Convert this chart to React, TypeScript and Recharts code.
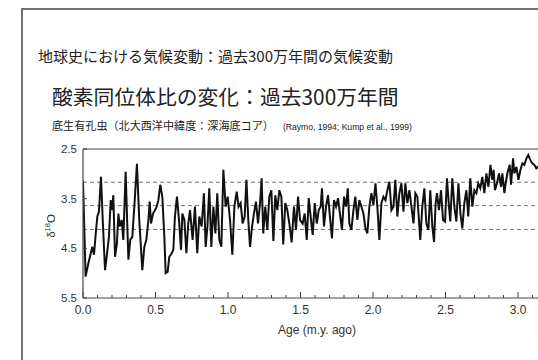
import React from 'react';
import { LineChart, Line, XAxis, YAxis, ReferenceLine } from 'recharts';

// age in million years ago
const ages = [
  0, 0.018, 0.037, 0.048, 0.064, 0.076, 0.087, 0.099, 0.11, 0.124,
  0.138, 0.152, 0.166, 0.179, 0.191, 0.202, 0.209, 0.221, 0.234, 0.244,
  0.253, 0.267, 0.278, 0.294, 0.313, 0.326, 0.34, 0.354, 0.372, 0.388,
  0.409, 0.423, 0.437, 0.451, 0.46, 0.469, 0.483, 0.497, 0.508, 0.52,
  0.533, 0.547, 0.561, 0.57, 0.584, 0.595, 0.612, 0.623, 0.634, 0.648,
  0.662, 0.676, 0.685, 0.699, 0.713, 0.726,
  0.738, 0.756, 0.772, 0.788, 0.802, 0.818, 0.834, 0.846, 0.858, 0.871,
  0.885, 0.899, 0.913, 0.926, 0.94, 0.954, 0.968, 0.984, 0.998, 1.014,
  1.03, 1.044, 1.06, 1.073, 1.087, 1.101, 1.115, 1.127, 1.14, 1.152,
  1.166, 1.179, 1.193, 1.207, 1.221, 1.232, 1.243, 1.257, 1.271, 1.285,
  1.299, 1.313, 1.326, 1.34, 1.354, 1.368, 1.381, 1.395, 1.409, 1.423,
  1.439, 1.455, 1.469, 1.483, 1.497,
  1.515, 1.529, 1.543, 1.557, 1.57, 1.584, 1.598, 1.612, 1.626, 1.639,
  1.648, 1.662, 1.676, 1.69, 1.703, 1.717, 1.731, 1.745, 1.759, 1.772,
  1.786, 1.8, 1.814, 1.826, 1.837, 1.851, 1.865, 1.878, 1.892, 1.906,
  1.92, 1.934, 1.948, 1.961, 1.975, 1.989, 2.003, 2.017, 2.03, 2.044,
  2.058, 2.072, 2.086, 2.099, 2.113, 2.127, 2.141, 2.154, 2.168, 2.182,
  2.196, 2.21, 2.223, 2.237, 2.251, 2.265, 2.279, 2.292, 2.306,
  2.326, 2.34, 2.354, 2.368, 2.382, 2.395, 2.409, 2.421, 2.432, 2.441,
  2.455, 2.469, 2.483, 2.497, 2.51, 2.524, 2.533, 2.547, 2.561, 2.575,
  2.589, 2.603, 2.616, 2.63, 2.644, 2.657, 2.671, 2.685, 2.699, 2.713,
  2.726, 2.74, 2.754, 2.768, 2.782, 2.796, 2.81, 2.823, 2.832, 2.841,
  2.855, 2.869, 2.883, 2.892, 2.906, 2.915, 2.929, 2.943, 2.952, 2.966,
  2.975, 2.989, 3.003, 3.017, 3.03, 3.044, 3.058, 3.071, 3.085, 3.099,
  3.113, 3.126, 3.138, 3.16, 3.18,
];

// benthic foraminifera δ18O (‰)
const d18O = [
  3.15, 5.07, 4.8, 4.67, 4.47, 4.63, 4.23, 3.86, 3.76, 3.06,
  4.06, 4.94, 4.6, 4.27, 3.53, 3.73, 3.43, 4.67, 4.4, 3.8,
  4.06, 3.93, 4.33, 2.96, 4.73, 4.33, 4.27, 3.66, 2.8, 3.93,
  4.94, 4.47, 4.33, 3.93, 3.56, 4.0, 3.8, 3.73, 3.66, 3.53,
  3.22, 3.46, 4.27, 5.0, 4.97, 4.67, 4.6, 4.53, 3.86, 3.46,
  3.93, 4.53, 3.8, 3.93, 4.6, 4.0,
  3.73, 4.33, 3.66, 4.6, 3.86, 4.06, 3.39, 4.47, 4.06, 3.29,
  4.47, 3.66, 4.2, 3.39, 4.33, 4.47, 2.92, 3.66, 3.46, 3.93,
  4.63, 3.66, 3.36, 3.66, 3.59, 4.0, 3.86, 3.12, 3.93, 4.47,
  4.06, 3.8, 3.56, 4.0, 3.59, 3.09, 4.2, 3.66, 4.13, 3.46,
  3.33, 4.35, 3.43, 3.73, 3.33, 3.46, 4.42, 3.59, 3.73, 4.0,
  4.38, 3.66, 4.13, 3.46, 3.93,
  4.0, 3.8, 4.33, 3.49, 3.86, 4.23, 3.59, 4.0, 3.73, 3.66,
  3.29, 4.06, 3.66, 3.43, 3.86, 4.3, 3.53, 3.66, 3.49, 3.8,
  4.13, 3.46, 3.66, 3.29, 4.0, 4.13, 3.73, 3.46, 3.93, 3.53,
  3.66, 3.8, 4.1, 4.2, 3.66, 3.39, 3.63, 3.19, 3.66, 4.33,
  3.59, 3.46, 3.53, 3.33, 3.16, 3.73, 3.66, 3.12, 3.86, 3.39,
  3.19, 3.76, 3.19, 3.59, 3.33, 3.66, 4.0, 3.39, 3.46,
  4.33, 3.66, 3.29, 4.0, 4.13, 3.33, 4.06, 4.37, 3.59, 3.39,
  3.73, 3.33, 3.93, 3.96, 3.09, 3.66, 3.96, 3.09, 3.66, 3.96,
  3.19, 3.8, 4.1, 3.59, 3.33, 3.86, 3.09, 3.66, 3.33, 3.39,
  3.19, 3.29, 3.06, 3.39, 2.99, 3.26, 2.82, 3.12, 2.92, 3.33,
  3.19, 2.99, 3.26, 2.99, 3.39, 3.19, 2.96, 2.82, 3.22, 2.69,
  2.99, 2.86, 3.12, 2.92, 2.79, 2.82, 2.69, 2.62, 2.72, 2.79,
  2.82, 2.89, 2.86, 2.78, 2.7,
];

const xTicks = [
  0, 0.1, 0.2, 0.3, 0.4, 0.5, 0.6, 0.7, 0.8, 0.9, 1.0, 1.1, 1.2, 1.3, 1.4, 1.5,
  1.6, 1.7, 1.8, 1.9, 2.0, 2.1, 2.2, 2.3, 2.4, 2.5, 2.6, 2.7, 2.8, 2.9, 3.0, 3.1,
];
const yTicks = [2.5, 3.5, 4.5, 5.5];
const dashedLevels = [3.17, 3.64, 4.12];

const data = ages.map((age, i) => ({ age, d18o: d18O[i] }));

const latin = '"Liberation Sans", Arial, sans-serif';
const cjk = '"Noto Sans CJK JP", "Noto Sans", sans-serif';
const axisColor = '#444';

const XTick = ({ x, y, payload }: any) => {
  const v = payload.value;
  const major = Math.abs(v * 2 - Math.round(v * 2)) < 1e-6;
  return (
    <g>
      <line x1={x} x2={x} y1={y} y2={y - (major ? 6 : 3)} stroke={axisColor} strokeWidth={1} />
      {major && (
        <text x={x} y={y + 16} textAnchor="middle" fontSize={12} fill="#333" fontFamily={latin}>
          {v.toFixed(1)}
        </text>
      )}
    </g>
  );
};

const YTick = ({ x, y, payload }: any) => (
  <g>
    <line x1={x} x2={x + 4} y1={y} y2={y} stroke={axisColor} strokeWidth={1} />
    <text x={x - 6} y={y + 4} textAnchor="end" fontSize={11.5} fill="#333" fontFamily={latin}>
      {payload.value.toFixed(1)}
    </text>
  </g>
);

export default function App() {
  return (
    <div style={{ position: 'fixed', left: 0, top: 0, width: 538, height: 360, overflow: 'hidden', background: '#fff' }}>
      <div
        style={{
          position: 'absolute', left: 21, top: 8, width: 600, height: 400,
          borderLeft: '2px solid #707070', borderTop: '2px solid #707070',
        }}
      />
      <div style={{ position: 'absolute', left: 38, top: 48, fontFamily: cjk, fontSize: 15, lineHeight: 1, color: '#222', whiteSpace: 'nowrap' }}>
        地球史における気候変動：過去300万年間の気候変動
      </div>
      <div style={{ position: 'absolute', left: 52, top: 86, fontFamily: cjk, fontSize: 20.8, lineHeight: 1, color: '#222', whiteSpace: 'nowrap' }}>
        酸素同位体比の変化：過去300万年間
      </div>
      <div style={{ position: 'absolute', left: 52, top: 120, fontFamily: cjk, fontSize: 11.1, lineHeight: 1, color: '#222', whiteSpace: 'nowrap' }}>
        底生有孔虫（北大西洋中緯度：深海底コア）
        <span style={{ fontFamily: latin, fontSize: 8.6, marginLeft: 9 }}>(Raymo, 1994; Kump et al., 1999)</span>
      </div>

      <div style={{ position: 'absolute', left: 0, top: 0 }}>
        <LineChart width={560} height={360} data={data} margin={{ top: 149, right: 13, bottom: 32, left: 53 }}>
          <XAxis
            dataKey="age"
            type="number"
            domain={[0, 3.2]}
            ticks={xTicks}
            interval={0}
            allowDataOverflow
            height={30}
            tickSize={0}
            tickMargin={0}
            tickLine={false}
            tick={<XTick />}
            axisLine={{ stroke: axisColor, strokeWidth: 1.2 }}
          />
          <YAxis
            type="number"
            domain={[2.5, 5.5]}
            reversed
            ticks={yTicks}
            interval={0}
            allowDataOverflow
            width={30}
            tickSize={0}
            tickMargin={0}
            tickLine={false}
            tick={<YTick />}
            axisLine={{ stroke: axisColor, strokeWidth: 1.2 }}
          />
          <ReferenceLine y={2.5} stroke={axisColor} strokeWidth={1.2} />
          {dashedLevels.map((lv) => (
            <ReferenceLine key={lv} y={lv} stroke="#777" strokeWidth={1} strokeDasharray="4 3" />
          ))}
          <Line
            type="linear"
            dataKey="d18o"
            stroke="#111"
            strokeWidth={2}
            dot={false}
            isAnimationActive={false}
          />
        </LineChart>
      </div>

      <div
        style={{
          position: 'absolute', left: 50, top: 226, transform: 'translate(-50%, -50%) rotate(-90deg)',
          fontFamily: latin, fontSize: 11.5, color: '#333', whiteSpace: 'nowrap',
        }}
      >
        δ<sup style={{ fontSize: 7.5 }}>18</sup>O
      </div>
      <div
        style={{
          position: 'absolute', left: 317, top: 330, transform: 'translate(-50%, -50%)',
          fontFamily: latin, fontSize: 12, color: '#333', whiteSpace: 'nowrap',
        }}
      >
        Age (m.y. ago)
      </div>
    </div>
  );
}
